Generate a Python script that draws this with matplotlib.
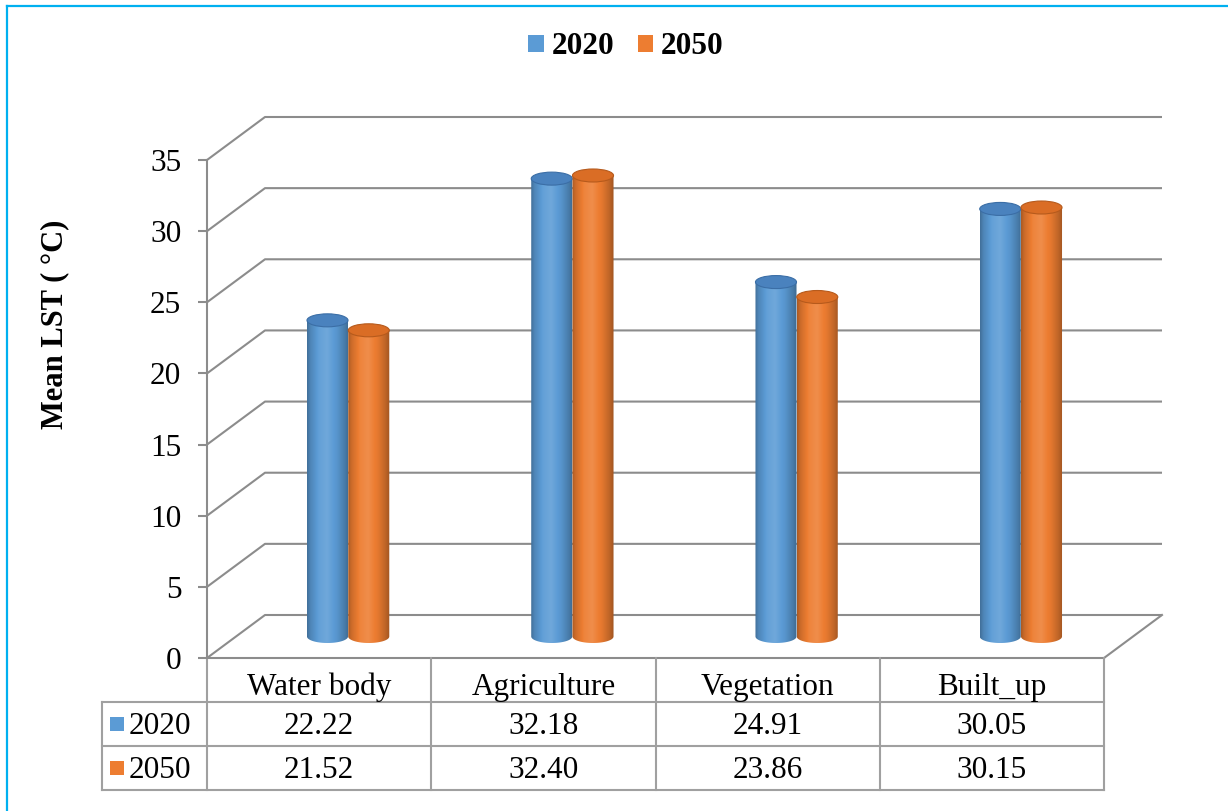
import numpy as np
import matplotlib
matplotlib.use("Agg")
import matplotlib.pyplot as plt
from matplotlib.patches import Ellipse, PathPatch, Rectangle, Patch
from matplotlib.path import Path
from matplotlib.lines import Line2D
from matplotlib.colors import to_rgb
import matplotlib.transforms as mtransforms

# ---- data -------------------------------------------------------------
categories = ["Water body", "Agriculture", "Vegetation", "Built_up"]
series_names = ["2020", "2050"]
lst_2020 = [22.22, 32.18, 24.91, 30.05]
lst_2050 = [21.52, 32.40, 23.86, 30.15]
y_ticks = [0, 5, 10, 15, 20, 25, 30, 35]

# ---- style ------------------------------------------------------------
SERIES_COLORS = ["#5B9BD5", "#ED7D31"]
TOP_COLORS = ["#4A82BE", "#DA6D25"]
RIM_COLORS = ["#3B6EA6", "#B65A1C"]
GRID = "#8C8C8C"
TABLE_LINE = "#A0A0A0"
BORDER = "#00B0F0"
plt.rcParams["font.family"] = ["Liberation Serif", "DejaVu Sans"]

W, H = 1228, 811
fig = plt.figure(figsize=(W / 100, H / 100), dpi=100)
fig.patch.set_facecolor("white")

# front plane of the 3-D box
ax = fig.add_axes([207 / W, 1 - 658 / H, 897 / W, 498 / H])
ax.patch.set_visible(False)
for s in ["top", "right", "bottom"]:
    ax.spines[s].set_visible(False)
ax.spines["left"].set_color(GRID)
ax.spines["left"].set_linewidth(1.5)
ax.set_xticks([])
ax.set_yticks(y_ticks)
ax.set_yticklabels([str(t) for t in y_ticks])
ax.tick_params(axis="y", direction="out", length=6.5, width=1.5,
               color=GRID, pad=12, labelsize=22.5)

PX_X = 897 / 4      # pixels per x data unit
PX_Y = 498 / 35     # pixels per y data unit

# depth of the box in data units (back wall offset)
DX = 58 / PX_X
DY = 43 / PX_Y
ELL_B = 6.5 / PX_Y       # vertical semi-axis of cylinder caps
BAR_W = 0.183
BAR_OFF = [-0.092, 0.092]

# back wall gridlines + side wall diagonals
for v in y_ticks:
    ax.plot([0, DX, 4 + DX], [v, v + DY, v + DY], color=GRID, lw=1.5,
            clip_on=False, zorder=1, solid_capstyle="butt")
# floor right edge and front edge
ax.plot([4, 4 + DX], [0, DY], color=GRID, lw=1.5, clip_on=False, zorder=1)
ax.plot([0, 4], [0, 0], color=GRID, lw=1.5, clip_on=False, zorder=1)

# cylinder shading profile across the width
U_PTS = [0.0, 0.08, 0.28, 0.48, 0.72, 0.9, 1.0]
S_PTS = [0.72, 0.86, 1.03, 1.08, 0.96, 0.80, 0.68]


def shade(base, s):
    base = np.array(to_rgb(base))
    if s <= 1:
        return base * s
    return base + (1 - base) * (s - 1) * 1.6


def draw_cylinder(cx, value, base, top_c, rim_c, y0, z):
    a = BAR_W / 2
    b = ELL_B
    y1 = y0 + value
    t = np.linspace(np.pi, 2 * np.pi, 48)
    bottom = np.column_stack([cx + a * np.cos(t), y0 + b * np.sin(t)])
    verts = np.vstack([[cx - a, y1], bottom, [cx + a, y1], [cx - a, y1]])
    codes = [Path.MOVETO] + [Path.LINETO] * (len(verts) - 2) + [Path.CLOSEPOLY]
    body = PathPatch(Path(verts, codes), transform=ax.transData,
                     facecolor="none", edgecolor="none")
    ax.add_patch(body)
    u = np.linspace(0, 1, 96)
    s = np.interp(u, U_PTS, S_PTS)
    grad = np.clip(np.array([shade(base, si) for si in s]), 0, 1)[None, :, :]
    im = ax.imshow(grad, extent=[cx - a, cx + a, y0 - b, y1], aspect="auto",
                   interpolation="bilinear", zorder=z)
    im.set_clip_path(body)
    ax.add_patch(Ellipse((cx, y1), 2 * a, 2 * b, facecolor=top_c,
                         edgecolor=rim_c, lw=0.8, zorder=z + 0.5))


series = [lst_2020, lst_2050]
z = 3
for i in range(len(categories)):
    for k, vals in enumerate(series):
        cx = i + 0.5 + BAR_OFF[k] + DX / 2
        draw_cylinder(cx, vals[i], SERIES_COLORS[k], TOP_COLORS[k],
                      RIM_COLORS[k], DY / 2, z)
        z += 1

ax.set_xlim(0, 4)
ax.set_ylim(0, 35)

# ---- data table under the plot ---------------------------------------
tr = mtransforms.blended_transform_factory(ax.transData, ax.transAxes)
ROW = 44 / 498
XL = -105 / PX_X
TXT = 22.5
tbl_kw = dict(color=TABLE_LINE, lw=1.5, transform=tr, clip_on=False)
for r in (1, 2, 3):
    ax.add_line(Line2D([XL, 4], [-r * ROW, -r * ROW], **tbl_kw))
for c in range(5):
    ax.add_line(Line2D([c, c], [0, -3 * ROW], **tbl_kw))
ax.add_line(Line2D([XL, XL], [-ROW, -3 * ROW], **tbl_kw))

for i, cat in enumerate(categories):
    ax.text(i + 0.5, -0.5 * ROW - 7 / 498, cat, transform=tr, ha="center",
            va="center", fontsize=TXT)
for k, vals in enumerate(series):
    yc = -(1.5 + k) * ROW
    for i, v in enumerate(vals):
        ax.text(i + 0.5, yc - 2 / 498, f"{v:.2f}", transform=tr,
                ha="center", va="center", fontsize=TXT)
    sq = 14 / PX_X
    ax.add_patch(Rectangle((XL + 8 / PX_X, yc - 7 / 498), sq, 14 / 498,
                           facecolor=SERIES_COLORS[k], edgecolor="none",
                           transform=tr, clip_on=False))
    ax.text(XL + 27 / PX_X, yc - 2 / 498, series_names[k], transform=tr,
            ha="left", va="center", fontsize=TXT)

# ---- axis title and legend -------------------------------------------
fig.text(55 / W, 1 - 324 / H, "Mean LST ( °C)", rotation=90, ha="center",
         va="center", fontsize=22, fontweight="bold")

handles = [Patch(facecolor=c, edgecolor="none") for c in SERIES_COLORS]
fig.legend(handles, series_names, loc="center",
           bbox_to_anchor=(626 / W, 1 - 47 / H), ncol=2, frameon=False,
           prop=dict(family="Liberation Serif", weight="bold", size=22.5),
           handlelength=0.5, handleheight=0.5, handletextpad=0.25,
           columnspacing=0.75)

# chart frame (top and left edges)
fig.add_artist(Line2D([7 / W, 7 / W], [0, 1 - 6 / H], transform=fig.transFigure,
                      color=BORDER, lw=1.6))
fig.add_artist(Line2D([7 / W, 1], [1 - 6 / H, 1 - 6 / H],
                      transform=fig.transFigure, color=BORDER, lw=1.6))

fig.savefig("out.png", dpi=100, facecolor="white")
